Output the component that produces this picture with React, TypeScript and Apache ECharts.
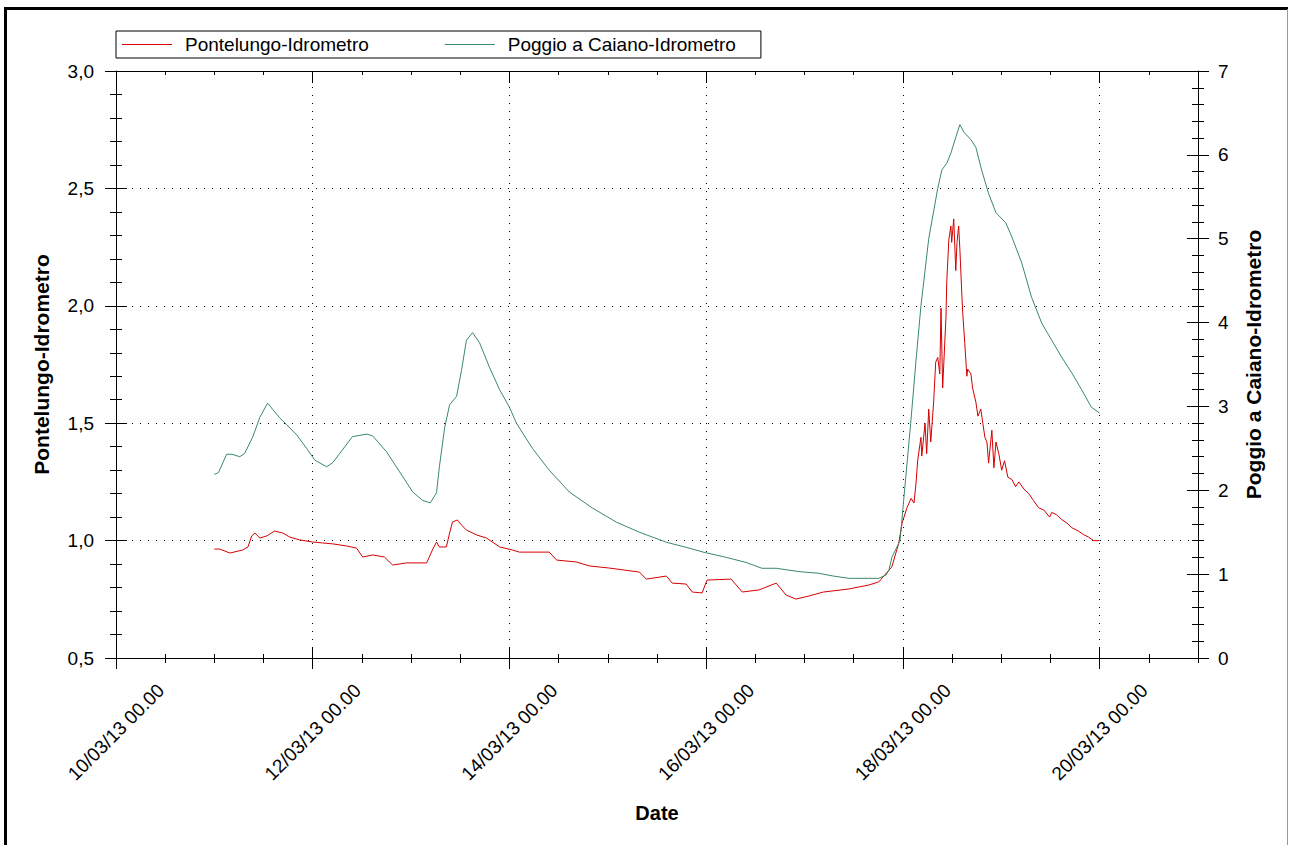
import React, { useEffect, useRef } from "react";
import * as echarts from "echarts";

// x values: hours since 10/03/13 00.00
const dateLabels = [
  "10/03/13 00.00",
  "12/03/13 00.00",
  "14/03/13 00.00",
  "16/03/13 00.00",
  "18/03/13 00.00",
  "20/03/13 00.00",
];
const leftTicks = ["0,5", "1,0", "1,5", "2,0", "2,5", "3,0"];

const seriesNames = ["Pontelungo-Idrometro", "Poggio a Caiano-Idrometro"];

const pontTimeH = [
  24.0, 25.3, 27.8, 30.9, 32.2, 33.1, 33.9, 35.1, 36.8, 38.7, 40.7, 42.4, 44.8, 48.0, 50.4, 52.9,
  56.3, 58.7, 60.2, 62.6, 65.5, 67.5, 70.9, 75.8, 77.2, 78.2, 78.9, 80.6, 81.4, 82.1, 83.3, 84.3,
  85.5, 88.0, 90.4, 93.6, 96.7, 98.4, 105.7, 107.5, 112.3, 115.5, 120.4, 127.7, 129.4, 134.3,
  135.7, 139.1, 140.6, 143.0, 144.2, 150.1, 152.8, 156.9, 161.1, 163.5, 165.9, 169.1, 172.6,
  178.8, 183.7, 186.1, 189.3, 191.0, 191.8, 193.0, 194.0, 194.7, 195.2, 195.6, 196.4, 196.6,
  197.4, 197.8, 198.3, 198.8, 199.5, 200.0, 200.5, 201.0, 201.3, 201.7, 202.5, 202.7, 203.2,
  203.7, 203.9, 204.4, 204.9, 205.2, 205.6, 205.9, 206.4, 206.6, 207.1, 207.6, 207.8, 208.6,
  209.0, 209.8, 210.3, 211.0, 211.5, 212.0, 212.5, 212.9, 213.7, 214.2, 214.7, 215.4, 216.1,
  216.8, 217.6, 218.6, 219.5, 220.3, 221.5, 222.7, 223.9, 225.1, 226.4, 227.8, 228.3, 229.5,
  230.7, 232.0, 233.2, 234.9, 236.1, 237.3, 238.5, 240.0,
];
const pontLevel = [
  0.964, 0.964, 0.947, 0.96, 0.973, 1.02, 1.032, 1.011, 1.02, 1.041, 1.032, 1.015, 1.003, 0.994,
  0.99, 0.986, 0.977, 0.968, 0.93, 0.939, 0.93, 0.896, 0.905, 0.905, 0.96, 0.994, 0.973, 0.973,
  1.032, 1.079, 1.088, 1.066, 1.045, 1.024, 1.011, 0.973, 0.96, 0.951, 0.951, 0.917, 0.909,
  0.892, 0.883, 0.866, 0.836, 0.849, 0.819, 0.815, 0.781, 0.777, 0.832, 0.836, 0.781, 0.79,
  0.819, 0.768, 0.751, 0.764, 0.781, 0.794, 0.811, 0.824, 0.888, 0.99, 1.075, 1.14, 1.18, 1.16,
  1.245, 1.34, 1.44, 1.36, 1.5, 1.37, 1.56, 1.42, 1.59, 1.76, 1.78, 1.71, 1.99, 1.65, 1.95, 2.1,
  2.28, 2.34, 2.27, 2.37, 2.15, 2.27, 2.34, 2.24, 2.04, 1.97, 1.84, 1.7, 1.73, 1.71, 1.65, 1.59,
  1.53, 1.56, 1.5, 1.44, 1.42, 1.33, 1.47, 1.31, 1.42, 1.37, 1.3, 1.34, 1.27, 1.26, 1.23, 1.25,
  1.22, 1.2, 1.17, 1.14, 1.13, 1.1, 1.12, 1.11, 1.09, 1.075, 1.055, 1.04, 1.025, 1.015, 1.0,
  1.0,
];

const poggioTimeH = [
  24.0, 25.0, 27.0, 28.3, 30.2, 31.4, 33.4, 35.1, 37.0, 38.3, 40.0, 41.7, 44.1, 46.5, 48.5, 51.4,
  52.9, 54.6, 57.7, 61.2, 62.6, 66.0, 69.2, 72.4, 74.8, 76.7, 78.2, 78.9, 80.2, 81.4, 83.1, 84.3,
  85.5, 87.0, 88.7, 91.1, 93.6, 96.0, 97.7, 101.6, 105.7, 110.6, 116.2, 122.1, 127.7, 134.3,
  139.1, 143.5, 148.9, 153.7, 157.6, 161.1, 166.7, 171.5, 174.7, 178.8, 186.1, 187.9, 188.6,
  189.3, 190.3, 191.3, 192.5, 193.9, 195.2, 196.4, 198.3, 200.5, 201.5, 202.7, 203.7, 204.9,
  205.9, 206.9, 208.6, 209.8, 211.2, 212.9, 214.7, 217.1, 218.6, 221.0, 223.4, 225.9, 228.3,
  230.7, 233.2, 235.6, 238.0, 240.0,
];
const poggioLevel = [
  2.19, 2.21, 2.43, 2.43, 2.4, 2.44, 2.64, 2.87, 3.04, 2.96, 2.86, 2.78, 2.66, 2.5, 2.36, 2.28,
  2.33, 2.44, 2.64, 2.67, 2.65, 2.46, 2.22, 1.98, 1.88, 1.85, 1.97, 2.28, 2.75, 3.02, 3.12, 3.43,
  3.79, 3.88, 3.76, 3.47, 3.2, 2.99, 2.8, 2.5, 2.24, 1.98, 1.79, 1.62, 1.5, 1.38, 1.32, 1.26,
  1.2, 1.14, 1.07, 1.07, 1.03, 1.01, 0.98, 0.95, 0.95, 0.99, 1.05, 1.2, 1.3, 1.4, 2.05, 2.8,
  3.55, 4.2, 5.0, 5.6, 5.82, 5.9, 6.02, 6.21, 6.36, 6.27, 6.18, 6.09, 5.82, 5.54, 5.31, 5.19,
  5.02, 4.71, 4.3, 3.99, 3.79, 3.59, 3.4, 3.2, 2.99, 2.92,
];

const FONT = "'Liberation Sans', Arial, sans-serif";
const RED = "#d40000";
const GREEN = "#3a8a66";
const DOT: any = [1, 7];

function xAx(extra: any) {
  return {
    type: "value",
    min: 0,
    max: 264,
    gridIndex: 0,
    axisLine: { show: false, onZero: false },
    axisLabel: { show: false },
    splitLine: { show: false },
    axisTick: { show: true, lineStyle: { color: "#000", width: 1 } },
    ...extra,
  };
}
function yAx(extra: any) {
  return {
    type: "value",
    gridIndex: 0,
    axisLine: { show: false, onZero: false },
    axisLabel: { show: false },
    splitLine: { show: false },
    ...extra,
  };
}

export default function App() {
  const ref = useRef<HTMLDivElement>(null);
  useEffect(() => {
    if (!ref.current) return;
    const chart = echarts.init(ref.current, undefined, { renderer: "svg" });
    const pontData = pontTimeH.map((h, i) => [h, pontLevel[i]]);
    const poggioData = poggioTimeH.map((h, i) => [h, poggioLevel[i]]);
    const tick = (len: number, inside: boolean) => ({
      show: true,
      inside,
      length: len,
      lineStyle: { color: "#000", width: 1 },
    });
    const minor = (len: number, split: number) => ({
      show: true,
      splitNumber: split,
      length: len,
      lineStyle: { color: "#000", width: 1 },
    });
    chart.setOption({
      animation: false,
      backgroundColor: "#fff",
      textStyle: { fontFamily: FONT, color: "#000" },
      grid: { left: 116, right: 91, top: 71, bottom: 187, containLabel: false },
      legend: {
        left: 116,
        top: 31,
        orient: "horizontal",
        data: seriesNames.map((n) => ({ name: n, icon: "rect" })),
        itemWidth: 50,
        itemHeight: 1,
        itemGap: 76,
        padding: [4, 25, 4, 6],
        borderColor: "#000",
        borderWidth: 1,
        backgroundColor: "#fff",
        textStyle: { fontFamily: FONT, fontSize: 19, color: "#000", padding: [0, 0, 0, 8] },
      },
      xAxis: [
        xAx({
          position: "bottom",
          interval: 48,
          axisLine: { show: true, onZero: false, lineStyle: { color: "#000", width: 1 } },
          axisTick: tick(11, false),
          axisLabel: {
            show: true,
            rotate: 45,
            align: "center",
            verticalAlign: "middle",
            margin: 74,
            fontFamily: FONT,
            fontSize: 19,
            color: "#000",
            showMaxLabel: false,
            formatter: (v: number) => (v % 48 === 0 ? dateLabels[v / 48] ?? "" : ""),
          },
          splitLine: { show: true, lineStyle: { color: "#000", type: DOT, width: 1 } },
          name: "Date",
          nameLocation: "middle",
          nameGap: 145,
          nameTextStyle: { fontFamily: FONT, fontSize: 20, fontWeight: "bold", color: "#000" },
        }),
        xAx({ position: "bottom", interval: 48, axisTick: tick(11, true) }),
        xAx({ position: "bottom", interval: 12, axisTick: tick(5, false) }),
        xAx({ position: "bottom", interval: 12, axisTick: tick(4, true) }),
        xAx({
          position: "top",
          interval: 12,
          axisLine: { show: true, onZero: false, lineStyle: { color: "#000", width: 1 } },
          axisTick: tick(4, true),
        }),
        xAx({ position: "top", interval: 48, axisTick: tick(12, true) }),
      ],
      yAxis: [
        yAx({
          position: "left",
          min: 0.5,
          max: 3,
          interval: 0.5,
          axisLine: { show: true, onZero: false, lineStyle: { color: "#000", width: 1 } },
          axisTick: tick(11, false),
          minorTick: minor(6, 5),
          axisLabel: {
            show: true,
            margin: 22,
            fontFamily: FONT,
            fontSize: 19,
            color: "#000",
            formatter: (v: number) => leftTicks[Math.round((v - 0.5) / 0.5)] ?? "",
          },
          splitLine: { show: true, lineStyle: { color: "#000", type: DOT, width: 1 } },
          name: seriesNames[0],
          nameLocation: "middle",
          nameRotate: 90,
          nameGap: 64,
          nameTextStyle: { fontFamily: FONT, fontSize: 21, fontWeight: "bold", color: "#000" },
        }),
        yAx({
          position: "left",
          min: 0.5,
          max: 3,
          interval: 0.5,
          axisTick: tick(11, true),
          minorTick: minor(6, 5),
        }),
        yAx({
          position: "right",
          min: 0,
          max: 7,
          interval: 1,
          axisLine: { show: true, onZero: false, lineStyle: { color: "#000", width: 1 } },
          axisTick: tick(11, false),
          minorTick: minor(6, 5),
          axisLabel: {
            show: true,
            margin: 20,
            fontFamily: FONT,
            fontSize: 19,
            color: "#000",
          },
          name: seriesNames[1],
          nameLocation: "middle",
          nameRotate: 90,
          nameGap: 45,
          nameTextStyle: { fontFamily: FONT, fontSize: 21, fontWeight: "bold", color: "#000" },
        }),
        yAx({
          position: "right",
          min: 0,
          max: 7,
          interval: 1,
          axisTick: tick(11, true),
          minorTick: minor(6, 5),
        }),
      ],
      series: [
        {
          name: seriesNames[0],
          type: "line",
          xAxisIndex: 0,
          yAxisIndex: 0,
          data: pontData,
          showSymbol: false,
          symbol: "none",
          lineStyle: { color: RED, width: 1 },
          itemStyle: { color: RED },
          silent: true,
        },
        {
          name: seriesNames[1],
          type: "line",
          xAxisIndex: 0,
          yAxisIndex: 2,
          data: poggioData,
          showSymbol: false,
          symbol: "none",
          lineStyle: { color: GREEN, width: 1 },
          itemStyle: { color: GREEN },
          silent: true,
        },
      ],
      graphic: [
        { type: "rect", left: 4, top: 7, shape: { width: 1284, height: 3 }, style: { fill: "#000" }, silent: true },
        { type: "rect", left: 4, top: 7, shape: { width: 3, height: 838 }, style: { fill: "#000" }, silent: true },
        { type: "rect", left: 1287, top: 9, shape: { width: 1, height: 836 }, style: { fill: "#999" }, silent: true },
      ],
    });
    return () => chart.dispose();
  }, []);
  return (
    <div
      ref={ref}
      style={{ position: "fixed", left: 0, top: 0, width: 1289, height: 845, background: "#fff" }}
    />
  );
}
